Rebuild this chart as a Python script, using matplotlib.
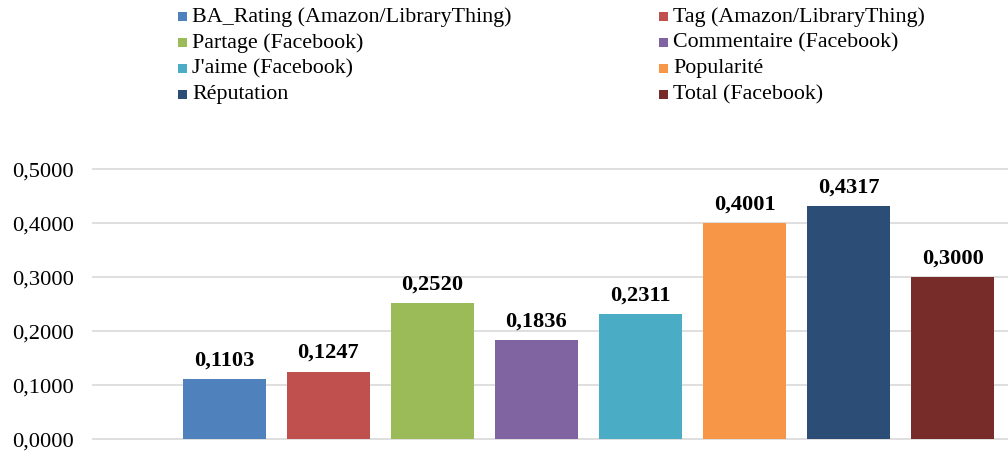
import matplotlib as mpl
mpl.use("Agg")
import matplotlib.pyplot as plt
from matplotlib.patches import Rectangle
from matplotlib.ticker import FuncFormatter


labels = [
  "BA_Rating (Amazon/LibraryThing)",
  "Tag (Amazon/LibraryThing)",
  "Partage (Facebook)",
  "Commentaire (Facebook)",
  "J'aime (Facebook)",
  "Popularité",
  "Réputation",
  "Total (Facebook)",
]
values = [0.1103, 0.1247, 0.2520, 0.1836, 0.2311, 0.4001, 0.4317, 0.3000]
colors = ["#4F81BD", "#C0504D", "#9BBB59", "#8064A2", "#4BACC6", "#F79646", "#2C4D75", "#772C2A"]
yticks = [0.0, 0.1, 0.2, 0.3, 0.4, 0.5]

plt.rcParams["font.family"] = ["Liberation Serif", "DejaVu Serif"]

W, H = 1008, 452
fs = 16.2
fig = plt.figure(figsize=(W / 100, H / 100), dpi=100)
ax = fig.add_axes([93 / W, 1 - 440 / H, 1 - 93 / W, (440 - 170) / H])

x = list(range(len(values)))
bars = ax.bar(x, values, width=0.8, color=colors, zorder=3)

def fmt(v):
  return "{:.4f}".format(v).replace(".", ",")

for b, v in zip(bars, values):
  ax.annotate(fmt(v), (b.get_x() + b.get_width() / 2, v), xytext=(0, 7),
      textcoords="offset points", ha="center", va="bottom",
      fontsize=fs, fontweight="bold")

ax.set_xlim(-1.26, 7.53)
ax.set_ylim(0, 0.5)
ax.set_yticks(yticks)
ax.yaxis.set_major_formatter(FuncFormatter(lambda v, p: fmt(v)))
ax.set_xticks([])
ax.tick_params(axis="y", length=0, pad=14, labelsize=fs)
ax.grid(axis="y", color="#D9D9D9", linewidth=1.2, zorder=0)
for line in ax.get_ygridlines():
  line.set_clip_on(False)
for s in ax.spines.values():
  s.set_visible(False)

# legend, two columns, row-major order
colX = [178, 659]
rowY = [17, 43, 69, 95]
for i, (lab, c) in enumerate(zip(labels, colors)):
  cx = colX[i % 2]
  cy = rowY[i // 2]
  fig.patches.append(Rectangle((cx / W, 1 - (cy + 4.5) / H), 9 / W, 9 / H,
      transform=fig.transFigure, facecolor=c, edgecolor="none"))
  fig.text((cx + 14) / W, 1 - cy / H, lab, fontsize=15.8, va="center", ha="left")

fig.savefig("out.png", dpi=100)
